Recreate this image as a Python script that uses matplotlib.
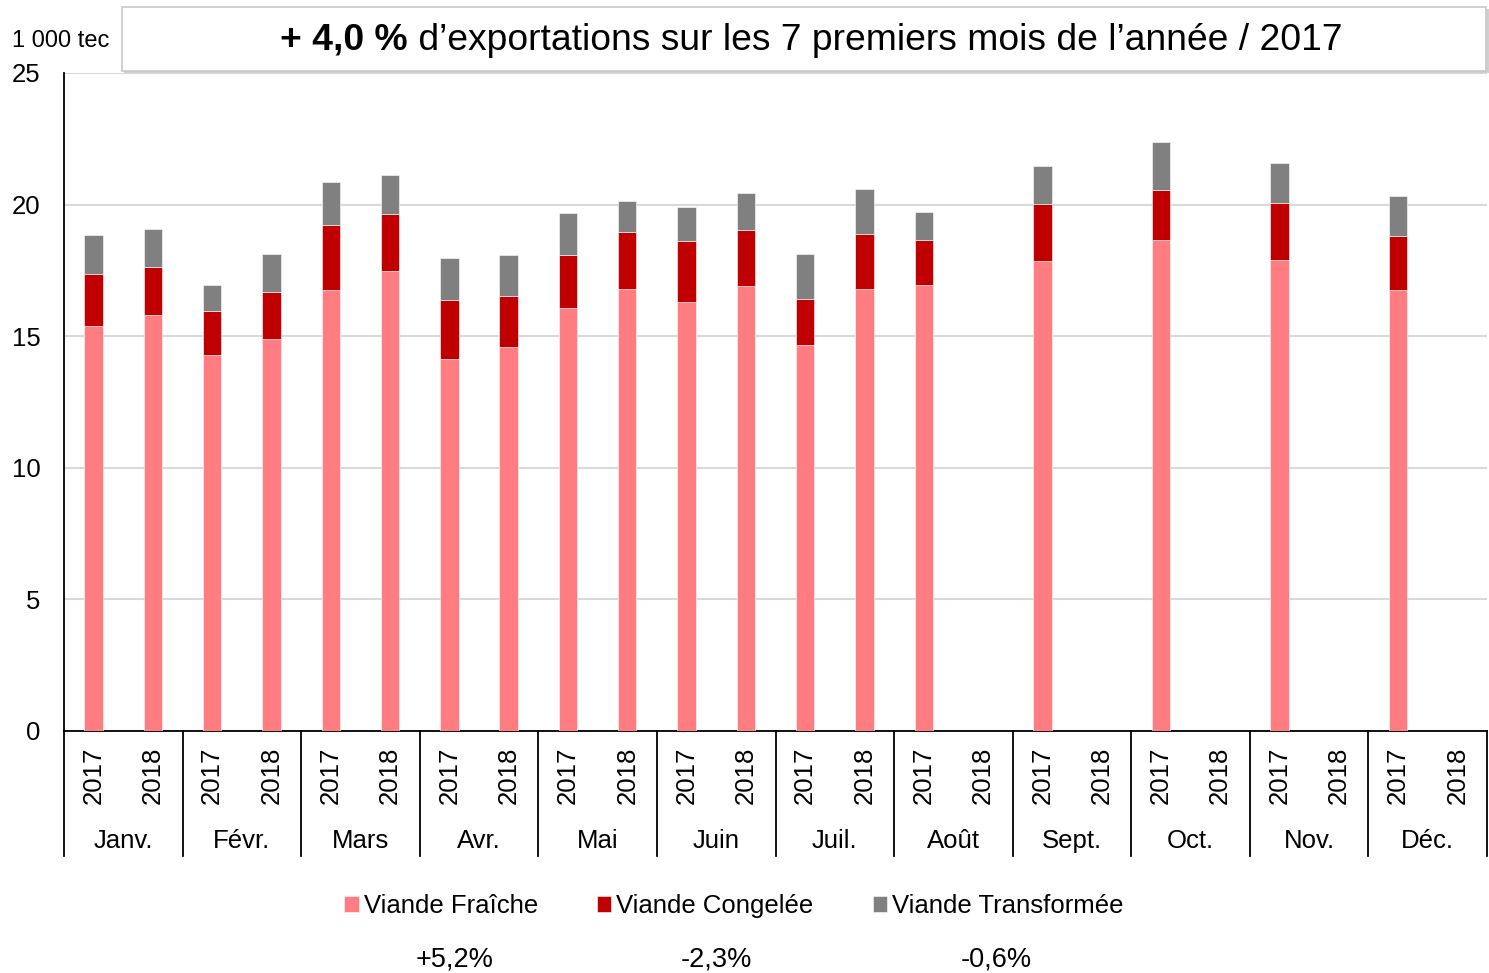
import numpy as np
import matplotlib.pyplot as plt
from matplotlib.patches import Rectangle
from matplotlib.text import Annotation
import matplotlib.transforms as mtransforms

plt.rcParams['font.family'] = ['Liberation Sans', 'DejaVu Sans']

MONTHS = ["Janv.", "Févr.", "Mars", "Avr.", "Mai", "Juin", "Juil.", "Août",
          "Sept.", "Oct.", "Nov.", "Déc."]
YEARS = ["2017", "2018"]

# layers (1 000 tec)
fraiche_2017 = [15.37, 14.30, 16.77, 14.13, 16.08, 16.31, 14.68, 16.96, 17.86, 18.67, 17.91, 16.77]
congelee_2017 = [1.98, 1.66, 2.47, 2.23, 2.01, 2.30, 1.75, 1.71, 2.15, 1.89, 2.15, 2.04]
transfo_2017 = [1.51, 1.00, 1.60, 1.61, 1.58, 1.29, 1.69, 1.04, 1.46, 1.81, 1.52, 1.53]

fraiche_2018 = [15.80, 14.89, 17.49, 14.59, 16.81, 16.91, 16.79]
congelee_2018 = [1.82, 1.80, 2.16, 1.92, 2.14, 2.13, 2.11]
transfo_2018 = [1.44, 1.42, 1.46, 1.58, 1.20, 1.40, 1.70]

SERIES = ["Viande Fraîche", "Viande Congelée", "Viande Transformée"]
EVOL = ["+5,2%", "-2,3%", "-0,6%"]
COLORS = ["#FF7C80", "#C00000", "#808080"]

fig = plt.figure(figsize=(14.89, 9.73), dpi=100)
ax = fig.add_axes([64 / 1489, 1 - 731 / 973, 1423 / 1489, 658 / 973])

w = 0.31
x17 = np.arange(len(fraiche_2017)) * 2
x18 = np.arange(len(fraiche_2018)) * 2 + 1
for xs, layers in [(x17, [fraiche_2017, congelee_2017, transfo_2017]),
                   (x18, [fraiche_2018, congelee_2018, transfo_2018])]:
    bottom = np.zeros(len(xs))
    for vals, col, name in zip(layers, COLORS, SERIES):
        vals = np.array(vals)
        ax.bar(xs, vals, w, bottom=bottom, color=col, edgecolor="white",
               linewidth=0.4, label=name if xs is x17 else None, zorder=3)
        bottom += vals

ax.set_xlim(-0.5, 23.5)
ax.set_ylim(0, 25)
ax.set_yticks(range(0, 26, 5))
ax.tick_params(axis="y", length=0, pad=17, labelsize=18.5)
ax.set_xticks([])
ax.grid(axis="y", color="#D9D9D9", linewidth=1.5, zorder=0)
for s in ["top", "right"]:
    ax.spines[s].set_visible(False)
ax.spines["left"].set_linewidth(1.3)
ax.spines["bottom"].set_linewidth(1.3)

# category axis labels
trans = mtransforms.blended_transform_factory(ax.transData, ax.transAxes)
for i in range(24):
    ax.text(i, -0.024, YEARS[i % 2], rotation=90, ha="center", va="top",
            fontsize=18.5, transform=trans, clip_on=False)
for m, name in enumerate(MONTHS):
    ax.text(2 * m + 0.5, -0.167, name, ha="center", va="center",
            fontsize=18.5, transform=trans, clip_on=False)
for b in range(13):
    ax.plot([2 * b - 0.5, 2 * b - 0.5], [0, -0.19], color="black", lw=1.3,
            transform=trans, clip_on=False)

# title box
fig.patches.append(Rectangle((124 / 1489, 1 - 73 / 973), 1365 / 1489, 64 / 973,
                             transform=fig.transFigure, facecolor="#D0D0D0",
                             edgecolor="none", zorder=0))
fig.patches.append(Rectangle((122 / 1489, 1 - 71 / 973), 1364 / 1489, 64 / 973,
                             transform=fig.transFigure, facecolor="white",
                             edgecolor="#C8C8C8", lw=1.2, zorder=1))
t1 = fig.text(280 / 1489, 1 - 40 / 973, "+ 4,0 %", fontsize=26.8, fontweight="bold",
              va="center", ha="left", zorder=4)
fig.add_artist(Annotation(" d’exportations sur les 7 premiers mois de l’année / 2017",
                          xy=(1, 0), xycoords=t1, va="bottom", ha="left",
                          fontsize=26.8, zorder=4))
fig.text(12 / 1489, 1 - 41 / 973, "1 000 tec", fontsize=17, va="center", ha="left")

# legend
fig.legend(loc="center", bbox_to_anchor=(734 / 1489, 1 - 906 / 973), ncol=3,
           frameon=False, fontsize=18.5, handlelength=0.55, handleheight=0.55,
           handletextpad=0.2, columnspacing=2.3)
for txt, xc in zip(EVOL, [455, 716, 996]):
    fig.text(xc / 1489, 1 - 959 / 973, txt, fontsize=19.5, ha="center", va="center")

fig.savefig("out.png", dpi=100)
